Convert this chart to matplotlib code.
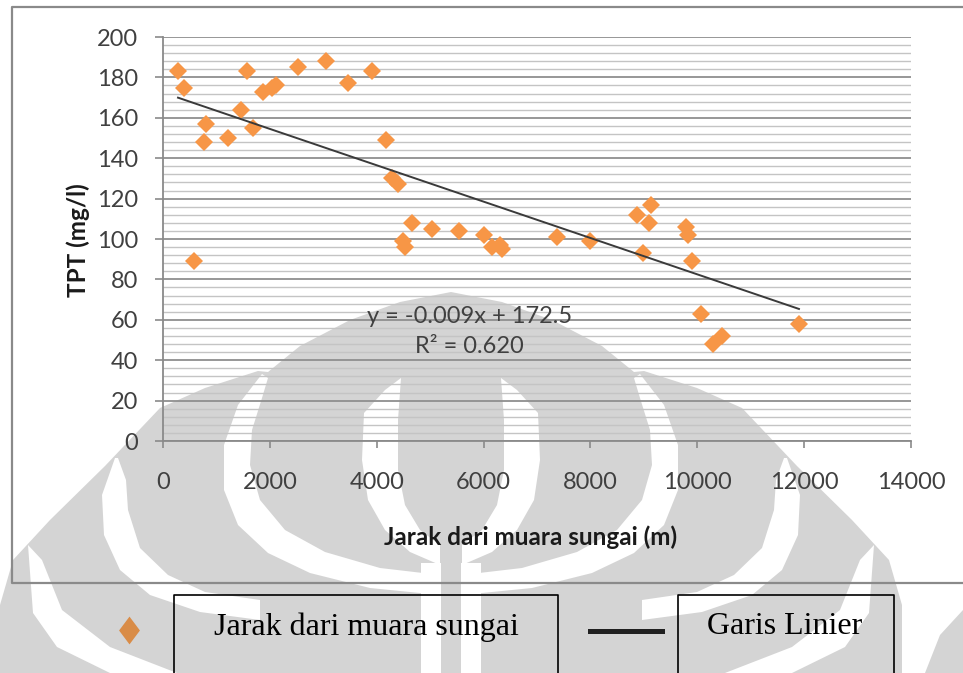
import numpy as np
import matplotlib
matplotlib.use("Agg")
import matplotlib.pyplot as plt
from matplotlib.patches import Polygon
from matplotlib.lines import Line2D
from matplotlib.path import Path

# jarak (m) dan TPT (mg/l) tiap titik sampel
jarak = [281, 393, 580, 805, 767, 1217, 1460, 1572, 1684, 1872, 2040, 2115,
         2527, 3051, 3462, 3911, 4174, 4286, 4398, 4660, 4492, 4529, 5035,
         5540, 6008, 6158, 6306, 6345, 7374, 7992, 8871, 9133, 9096, 8984,
         9789, 9826, 9901, 10069, 10294, 10462, 11903]
tpt = [183, 175, 89, 157, 148, 150, 164, 183, 155, 173, 175, 176,
       185, 188, 177, 183, 149, 130, 127, 108, 99, 96, 105,
       104, 102, 96, 97, 95, 101, 99, 112, 117, 108, 93,
       106, 102, 89, 63, 48, 52, 58]

# garis linier (trendline)
slope = -0.009
intercept = 172.5
r2 = 0.620

xticks = [0, 2000, 4000, 6000, 8000, 10000, 12000, 14000]
yticks = [0, 20, 40, 60, 80, 100, 120, 140, 160, 180, 200]

W, H = 963, 673
fig = plt.figure(figsize=(W / 100, H / 100), dpi=100)
fig.patch.set_facecolor("white")


def px(pts):
    return [(x / W, 1 - y / H) for x, y in pts]


def shape(pts, color, z):
    fig.add_artist(Polygon(px(pts), closed=True, transform=fig.transFigure,
                           facecolor=color, edgecolor="none", zorder=z))


def mirror(pts):
    return [(902 - x, y) for x, y in pts]


# logo makara di latar belakang
grey = "#d4d4d4"
outline = [(0, 673), (0, 605), (13, 560), (50, 520), (105, 466), (160, 408),
           (205, 388), (258, 371), (268, 372), (300, 346), (350, 320),
           (400, 302), (451, 292)]
shape(outline + mirror(outline[::-1])[1:], grey, -5)
shape([(925, 673), (940, 635), (963, 610), (963, 673)], grey, -5)

crescent_a = [(262, 374), (238, 405), (224, 445), (224, 490), (238, 525),
              (268, 553), (310, 573), (370, 588), (440, 595),
              (440, 575), (380, 568), (325, 552), (285, 530), (260, 500),
              (250, 465), (252, 430), (262, 398), (268, 378)]
crescent_b = [(115, 458), (102, 495), (104, 535), (120, 570), (150, 595),
              (200, 612), (260, 620), (260, 600), (205, 592), (168, 575),
              (140, 548), (128, 510), (126, 480), (118, 458)]
crescent_c = [(28, 545), (33, 613), (57, 647), (110, 673), (177, 673),
              (110, 647), (62, 610), (42, 560)]
arm_d = [(364, 413), (362, 460), (368, 500), (385, 530), (410, 552),
         (440, 565), (440, 545), (420, 530), (405, 505), (398, 470),
         (398, 420), (401, 378), (385, 390)]
for pts in (crescent_a, crescent_b, crescent_c, arm_d):
    shape(pts, "white", -4)
    shape(mirror(pts), "white", -4)
shape([(421, 563), (481, 563), (481, 673), (421, 673)], "white", -4)
shape([(441, 560), (461, 560), (461, 673), (441, 673)], grey, -3)

# bingkai grafik
frame = Line2D([963 / W, 12 / W, 12 / W, 963 / W],
               [1 - 7 / H, 1 - 7 / H, 1 - 583 / H, 1 - 583 / H],
               transform=fig.transFigure, color="#8a8a8a", lw=1.6, zorder=2)
fig.add_artist(frame)

ax = fig.add_axes([163 / W, 1 - 441 / H, 748 / W, 404 / H])
ax.set_facecolor("none")

ax.set_xlim(0, 14000)
ax.set_ylim(0, 200)
ax.set_xticks(xticks)
ax.set_yticks(yticks)
ax.set_yticks(np.arange(0, 201, 4), minor=True)

ax.grid(which="major", axis="y", color="#8f8f8f", lw=1.3, zorder=0)
ax.grid(which="minor", axis="y", color="#c4c4c4", lw=1.0, zorder=0)
ax.set_axisbelow(True)

for s in ("top", "right"):
    ax.spines[s].set_visible(False)
for s in ("left", "bottom"):
    ax.spines[s].set_color("#8a8a8a")
    ax.spines[s].set_linewidth(1.3)

ax.tick_params(axis="y", which="major", direction="out", length=6,
               width=1.2, color="#8a8a8a", pad=12, labelcolor="#404040")
ax.tick_params(axis="y", which="minor", length=0)
ax.tick_params(axis="x", direction="out", length=5, width=1.2,
               color="#8a8a8a", pad=17, labelcolor="#404040")
for lab in ax.get_xticklabels() + ax.get_yticklabels():
    lab.set_fontfamily("Lato")
    lab.set_fontsize(17)

ax.plot(jarak, tpt, linestyle="none", marker="D", markersize=9.6,
        color="#f79646", markeredgewidth=0, zorder=3, clip_on=False)

x_fit = np.array([min(jarak), max(jarak)])
ax.plot(x_fit, slope * x_fit + intercept, color="#3a3a3a", lw=1.4, zorder=4)

ax.text(0.41, 0.309, f"y = {slope}x + {intercept}", transform=ax.transAxes,
        ha="center", va="center", fontsize=17, family="Lato",
        color="#404040", zorder=5)
ax.text(0.41, 0.235, f"R² = {r2:.3f}", transform=ax.transAxes,
        ha="center", va="center", fontsize=17, family="Lato",
        color="#404040", zorder=5)

ax.text(0.491, -0.238, "Jarak dari muara sungai (m)", transform=ax.transAxes,
        ha="center", va="center", fontsize=17.5, family="Lato",
        fontweight="bold", color="#1a1a1a")
ax.text(-0.114, 0.497, "TPT (mg/l)", transform=ax.transAxes, rotation=90,
        ha="center", va="center", fontsize=17.5, family="Lato",
        fontweight="bold", color="#1a1a1a")

# keterangan di bawah grafik
tall_diamond = Path([(0, 1), (0.75, 0), (0, -1), (-0.75, 0), (0, 1)])
fig.add_artist(Line2D([129 / W], [1 - 630 / H], transform=fig.transFigure,
                      marker=tall_diamond, markersize=20, color="#d98c47",
                      markeredgewidth=0, linestyle="none"))
fig.add_artist(Line2D([590 / W, 662 / W], [1 - 631 / H, 1 - 631 / H],
                      transform=fig.transFigure, color="#202020", lw=3.6))
for x0, x1 in ((174, 558), (678, 894)):
    fig.add_artist(Line2D([x0 / W, x0 / W, x1 / W, x1 / W],
                          [0, 1 - 595 / H, 1 - 595 / H, 0],
                          transform=fig.transFigure, color="black", lw=1.2))
fig.text(366 / W, 1 - 627 / H, "Jarak dari muara sungai", ha="center",
         va="center", fontsize=23, family="Liberation Serif", color="black")
fig.text(785 / W, 1 - 627 / H, "Garis Linier", ha="center", va="center",
         fontsize=23, family="Liberation Serif", color="black")

fig.savefig("out.png", dpi=100)
